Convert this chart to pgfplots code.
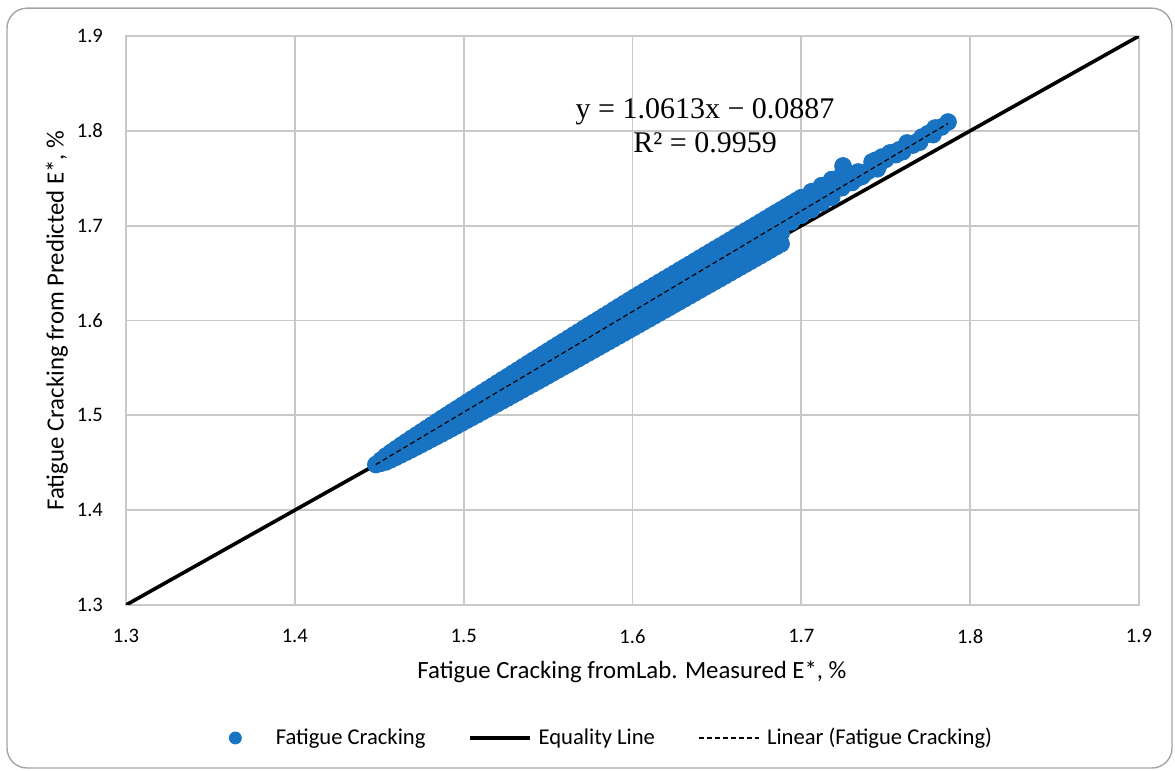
\documentclass[border=0pt]{standalone}
\usepackage{pgfplots}
\pgfplotsset{compat=1.18}
\usepackage{pgfplotstable}
\usepackage{fontspec}
\setmainfont{Carlito}
\newfontfamily\eqfont{Liberation Serif}
\definecolor{ptblue}{RGB}{25,115,195}
\definecolor{gridgray}{RGB}{200,200,200}
\definecolor{framegray}{RGB}{165,165,165}

\pgfplotstableread{
x y
1.448 1.4481
1.454 1.4572
1.454 1.4558
1.454 1.4544
1.454 1.4527
1.454 1.4509
1.460 1.4647
1.460 1.4628
1.460 1.4608
1.460 1.4584
1.460 1.4559
1.466 1.4720
1.466 1.4696
1.466 1.4672
1.466 1.4642
1.466 1.4612
1.472 1.4791
1.472 1.4763
1.472 1.4735
1.472 1.4701
1.472 1.4666
1.478 1.4861
1.478 1.4830
1.478 1.4799
1.478 1.4761
1.478 1.4722
1.484 1.4931
1.484 1.4897
1.484 1.4863
1.484 1.4821
1.484 1.4778
1.490 1.5000
1.490 1.4963
1.490 1.4926
1.490 1.4880
1.490 1.4834
1.496 1.5069
1.496 1.5030
1.496 1.4990
1.496 1.4941
1.496 1.4892
1.502 1.5137
1.502 1.5096
1.502 1.5054
1.502 1.5002
1.502 1.4950
1.508 1.5205
1.508 1.5161
1.508 1.5117
1.508 1.5062
1.508 1.5007
1.514 1.5273
1.514 1.5227
1.514 1.5181
1.514 1.5124
1.514 1.5066
1.520 1.5341
1.520 1.5293
1.520 1.5245
1.520 1.5185
1.520 1.5125
1.526 1.5408
1.526 1.5358
1.526 1.5308
1.526 1.5246
1.526 1.5183
1.532 1.5476
1.532 1.5424
1.532 1.5372
1.532 1.5307
1.532 1.5242
1.538 1.5544
1.538 1.5490
1.538 1.5436
1.538 1.5369
1.538 1.5302
1.544 1.5610
1.544 1.5555
1.544 1.5499
1.544 1.5430
1.544 1.5360
1.550 1.5678
1.550 1.5621
1.550 1.5563
1.550 1.5492
1.550 1.5420
1.556 1.5745
1.556 1.5686
1.556 1.5627
1.556 1.5554
1.556 1.5480
1.562 1.5811
1.562 1.5751
1.562 1.5690
1.562 1.5615
1.562 1.5539
1.568 1.5878
1.568 1.5816
1.568 1.5754
1.568 1.5677
1.568 1.5599
1.574 1.5946
1.574 1.5882
1.574 1.5818
1.574 1.5739
1.574 1.5659
1.580 1.6011
1.580 1.5946
1.580 1.5881
1.580 1.5800
1.580 1.5719
1.586 1.6078
1.586 1.6012
1.586 1.5945
1.586 1.5862
1.586 1.5779
1.592 1.6145
1.592 1.6077
1.592 1.6009
1.592 1.5924
1.592 1.5839
1.598 1.6211
1.598 1.6142
1.598 1.6072
1.598 1.5986
1.598 1.5899
1.604 1.6276
1.604 1.6206
1.604 1.6136
1.604 1.6048
1.604 1.5959
1.610 1.6340
1.610 1.6270
1.610 1.6200
1.610 1.6110
1.610 1.6020
1.616 1.6403
1.616 1.6333
1.616 1.6263
1.616 1.6172
1.616 1.6080
1.622 1.6467
1.622 1.6397
1.622 1.6327
1.622 1.6234
1.622 1.6140
1.628 1.6531
1.628 1.6461
1.628 1.6391
1.628 1.6296
1.628 1.6201
1.634 1.6594
1.634 1.6524
1.634 1.6454
1.634 1.6358
1.634 1.6261
1.640 1.6658
1.640 1.6588
1.640 1.6518
1.640 1.6420
1.640 1.6322
1.646 1.6722
1.646 1.6652
1.646 1.6582
1.646 1.6483
1.646 1.6383
1.652 1.6785
1.652 1.6715
1.652 1.6645
1.652 1.6544
1.652 1.6443
1.658 1.6849
1.658 1.6779
1.658 1.6709
1.658 1.6607
1.658 1.6504
1.664 1.6913
1.664 1.6843
1.664 1.6773
1.664 1.6669
1.664 1.6565
1.670 1.6976
1.670 1.6906
1.670 1.6836
1.670 1.6731
1.670 1.6625
1.676 1.7040
1.676 1.6970
1.676 1.6900
1.676 1.6793
1.676 1.6686
1.682 1.7104
1.682 1.7034
1.682 1.6964
1.682 1.6856
1.682 1.6748
1.688 1.7167
1.688 1.7097
1.688 1.7027
1.688 1.6918
1.688 1.6808
1.451 1.4527
1.451 1.4495
1.457 1.4610
1.457 1.4534
1.463 1.4684
1.463 1.4586
1.469 1.4756
1.469 1.4639
1.475 1.4826
1.475 1.4694
1.481 1.4896
1.481 1.4750
1.487 1.4966
1.487 1.4806
1.493 1.5035
1.493 1.4863
1.499 1.5103
1.499 1.4921
1.505 1.5171
1.505 1.4979
1.511 1.5239
1.511 1.5037
1.517 1.5307
1.517 1.5096
1.523 1.5375
1.523 1.5154
1.529 1.5442
1.529 1.5213
1.535 1.5510
1.535 1.5272
1.541 1.5577
1.541 1.5331
1.547 1.5644
1.547 1.5390
1.553 1.5712
1.553 1.5450
1.559 1.5778
1.559 1.5510
1.565 1.5845
1.565 1.5569
1.571 1.5912
1.571 1.5629
1.577 1.5979
1.577 1.5689
1.583 1.6045
1.583 1.5749
1.589 1.6112
1.589 1.5809
1.595 1.6178
1.595 1.5869
1.601 1.6244
1.601 1.5929
1.607 1.6308
1.607 1.5990
1.613 1.6372
1.613 1.6050
1.619 1.6435
1.619 1.6110
1.625 1.6499
1.625 1.6171
1.631 1.6563
1.631 1.6231
1.637 1.6626
1.637 1.6292
1.643 1.6690
1.643 1.6353
1.649 1.6754
1.649 1.6413
1.655 1.6817
1.655 1.6474
1.661 1.6881
1.661 1.6535
1.667 1.6945
1.667 1.6595
1.673 1.7008
1.673 1.6656
1.679 1.7072
1.679 1.6717
1.685 1.7136
1.685 1.6778
1.691 1.7199
1.697 1.7263
1.694 1.7231
1.694 1.7161
1.694 1.7091
1.694 1.7040
1.700 1.7295
1.700 1.7225
1.700 1.7155
1.700 1.7110
1.706 1.7358
1.706 1.7288
1.706 1.7218
1.706 1.7170
1.712 1.7422
1.712 1.7352
1.712 1.7282
1.712 1.7240
1.718 1.7486
1.718 1.7416
1.718 1.7346
1.718 1.7300
1.722 1.7500
1.724 1.7400
1.7247 1.7630
1.727 1.7480
1.730 1.7455
1.733 1.7500
1.7336 1.7566
1.736 1.7520
1.738 1.7558
1.740 1.7580
1.7419 1.7672
1.744 1.7690
1.745 1.7600
1.746 1.7643
1.7478 1.7724
1.750 1.7700
1.7525 1.7767
1.754 1.7770
1.756 1.7749
1.758 1.7800
1.760 1.7780
1.7626 1.7872
1.766 1.7850
1.768 1.7877
1.770 1.7880
1.7715 1.7935
1.775 1.7970
1.778 1.7960
1.7792 1.8030
1.783 1.8040
1.7869 1.8093
}\fatigue

\begin{document}
\begin{tikzpicture}
\useasboundingbox (-63pt,-83pt) rectangle (524.5pt,302.5pt);
\fill[white] (-63pt,-83pt) rectangle (524.5pt,302.5pt);
\draw[framegray, line width=0.7pt, rounded corners=10pt] (-59.5pt,-81.5pt) rectangle (523pt,298.4pt);
\begin{axis}[
  at={(0pt,0pt)}, anchor=south west,
  scale only axis, width=506.5pt, height=284.5pt,
  xmin=1.3, xmax=1.9, ymin=1.3, ymax=1.9,
  clip mode=individual,
  xtick={1.3,1.4,1.5,1.6,1.7,1.8,1.9},
  ytick={1.3,1.4,1.5,1.6,1.7,1.8,1.9},
  xticklabels={1.3,1.4,1.5,1.6,1.7,1.8,1.9},
  yticklabels={1.3,1.4,1.5,1.6,1.7,1.8,1.9},
  major tick length=0pt,
  grid=major,
  grid style={draw=gridgray, line width=0.9pt},
  axis line style={draw=gridgray, line width=0.9pt},
  tick label style={font=\fontsize{10.3}{12}\selectfont},
  xticklabel style={yshift=-8.7pt},
  yticklabel style={xshift=-8pt},
  xlabel={Fatigue Cracking fromLab. Measured E*, \%},
  ylabel={Fatigue Cracking from Predicted E*, \%},
  label style={font=\fontsize{12.4}{14}\selectfont},
  xlabel style={at={(axis description cs:0.4995,-0.1178)}, anchor=center},
  ylabel style={at={(axis description cs:-0.0681,0.5)}, anchor=center},
  legend columns=3,
  legend style={draw=none, fill=none, font=\fontsize{11.3}{13}\selectfont,
    at={(0.4694,-0.2337)}, anchor=center,
    /tikz/every even column/.append style={column sep=19.5pt}},
]
\addlegendimage{legend image code/.code={\path (0pt,0pt) (32pt,0pt); \fill[ptblue] (14pt,0pt) circle (3pt);}}
\addlegendentry{Fatigue Cracking}
\addlegendimage{legend image code/.code={\path (0pt,0pt) (32pt,0pt); \draw[black, line width=1.8pt] (0pt,0pt) -- (30pt,0pt);}}
\addlegendentry{Equality Line}
\addlegendimage{legend image code/.code={\path (0pt,0pt) (32pt,0pt); \draw[black, line width=0.6pt, dash pattern=on 2.5pt off 1.5pt] (0pt,0pt) -- (30pt,0pt);}}
\addlegendentry{Linear (Fatigue Cracking)}

\addplot[black, line width=1.8pt, forget plot] coordinates {(1.3,1.3) (1.9,1.9)};
\addplot[only marks, mark=*, mark size=4.2pt, mark options={draw=ptblue, fill=ptblue}, forget plot] table[x=x,y=y] {\fatigue};
\addplot[black, line width=0.6pt, dash pattern=on 2.5pt off 1.5pt, forget plot] coordinates {(1.448,1.4481) (1.787,1.8079)};
\node[font=\eqfont\fontsize{15}{17}\selectfont, align=center] at (axis cs:1.643,1.805) {y = 1.0613x − 0.0887\\R² = 0.9959};
\end{axis}
\end{tikzpicture}
\end{document}
